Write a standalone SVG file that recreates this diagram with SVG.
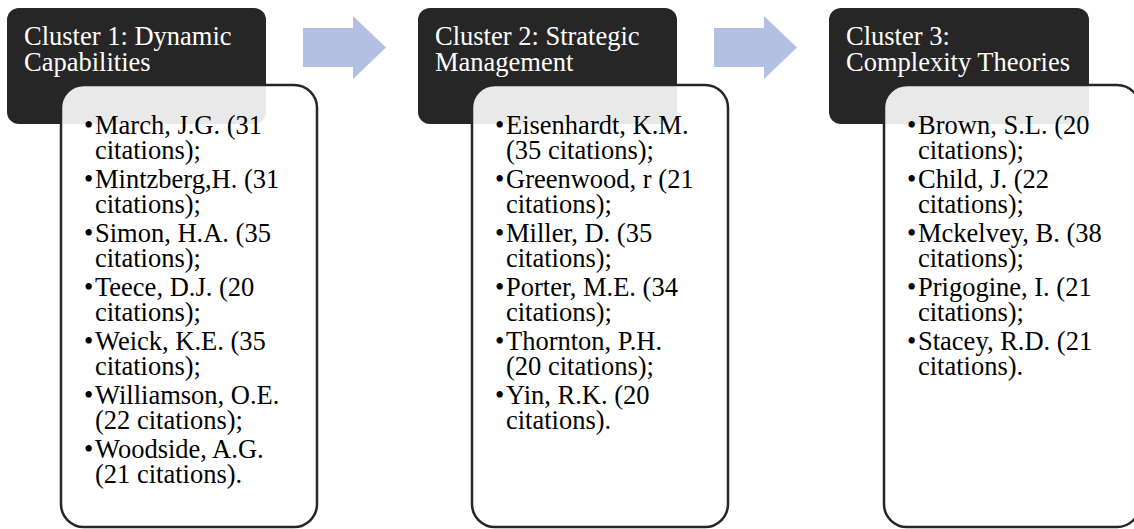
<svg xmlns="http://www.w3.org/2000/svg" width="1134" height="529" viewBox="0 0 1134 529">
<style>
.hdr{fill:#262626}
.body{fill:#ffffff;fill-opacity:0.9;stroke:#262626;stroke-width:2.5}
.arrow{fill:#b3c0e1}
.ht{font-family:'Liberation Serif','Times New Roman',Times,serif;font-size:26.5px;fill:#ffffff}
.bt{font-family:'Liberation Serif','Times New Roman',Times,serif;font-size:26.5px;fill:#000000}
</style>
<rect width="1134" height="529" fill="#ffffff"/>
<g id="connectors">
<polygon class="arrow" points="303,28 353,28 353,16 386,47.5 353,79 353,67 303,67"/>
<polygon class="arrow" points="714,28 764,28 764,16 797,47.5 764,79 764,67 714,67"/>
</g>
<g id="cluster1">
<rect class="hdr" x="7" y="8" width="259" height="116" rx="12"/>
<g class="ht">
<text x="24" y="45">Cluster 1: Dynamic</text>
<text x="24" y="71">Capabilities</text>
</g>
<rect class="body" x="61" y="85" width="256" height="442" rx="23"/>
<g class="bt">
<text x="84" y="134">•</text><text x="95" y="134">March, J.G. (31</text><text x="95" y="159">citations);</text>
<text x="84" y="188">•</text><text x="95" y="188">Mintzberg,H. (31</text><text x="95" y="213">citations);</text>
<text x="84" y="242">•</text><text x="95" y="242">Simon, H.A. (35</text><text x="95" y="267">citations);</text>
<text x="84" y="296">•</text><text x="95" y="296">Teece, D.J. (20</text><text x="95" y="321">citations);</text>
<text x="84" y="350">•</text><text x="95" y="350">Weick, K.E. (35</text><text x="95" y="375">citations);</text>
<text x="84" y="404">•</text><text x="95" y="404">Williamson, O.E.</text><text x="95" y="429">(22 citations);</text>
<text x="84" y="458">•</text><text x="95" y="458">Woodside, A.G.</text><text x="95" y="483">(21 citations).</text>
</g>
</g>
<g id="cluster2">
<rect class="hdr" x="418" y="8" width="259" height="116" rx="12"/>
<g class="ht">
<text x="435" y="45">Cluster 2: Strategic</text>
<text x="435" y="71">Management</text>
</g>
<rect class="body" x="472" y="85" width="256" height="442" rx="23"/>
<g class="bt">
<text x="495" y="134">•</text><text x="506" y="134">Eisenhardt, K.M.</text><text x="506" y="159">(35 citations);</text>
<text x="495" y="188">•</text><text x="506" y="188">Greenwood, r (21</text><text x="506" y="213">citations);</text>
<text x="495" y="242">•</text><text x="506" y="242">Miller, D. (35</text><text x="506" y="267">citations);</text>
<text x="495" y="296">•</text><text x="506" y="296">Porter, M.E. (34</text><text x="506" y="321">citations);</text>
<text x="495" y="350">•</text><text x="506" y="350">Thornton, P.H.</text><text x="506" y="375">(20 citations);</text>
<text x="495" y="404">•</text><text x="506" y="404">Yin, R.K. (20</text><text x="506" y="429">citations).</text>
</g>
</g>
<g id="cluster3">
<rect class="hdr" x="829" y="8" width="260" height="116" rx="12"/>
<g class="ht">
<text x="846" y="45">Cluster 3:</text>
<text x="846" y="71">Complexity Theories</text>
</g>
<rect class="body" x="884" y="85" width="256" height="442" rx="23"/>
<g class="bt">
<text x="907" y="134">•</text><text x="918" y="134">Brown, S.L. (20</text><text x="918" y="159">citations);</text>
<text x="907" y="188">•</text><text x="918" y="188">Child, J. (22</text><text x="918" y="213">citations);</text>
<text x="907" y="242">•</text><text x="918" y="242">Mckelvey, B. (38</text><text x="918" y="267">citations);</text>
<text x="907" y="296">•</text><text x="918" y="296">Prigogine, I. (21</text><text x="918" y="321">citations);</text>
<text x="907" y="350">•</text><text x="918" y="350">Stacey, R.D. (21</text><text x="918" y="375">citations).</text>
</g>
</g>
</svg>
